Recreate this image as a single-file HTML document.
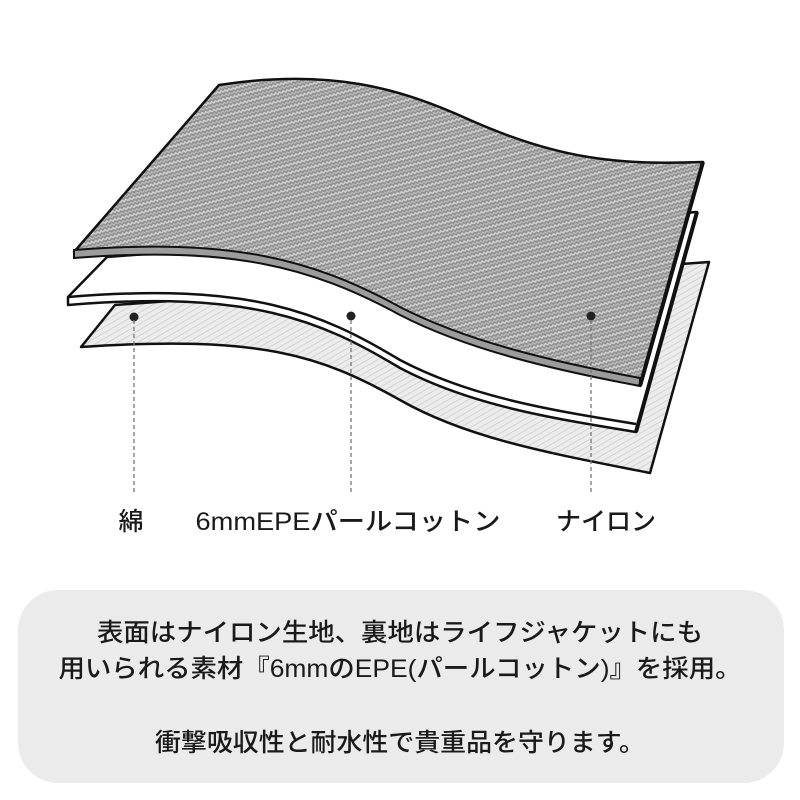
<!DOCTYPE html>
<html><head><meta charset="utf-8"><style>
html,body{margin:0;padding:0;background:#fff;width:800px;height:800px;overflow:hidden}
.t{font-family:"Liberation Sans","Noto Sans CJK JP",sans-serif;fill:#1a1a1a;font-weight:500}
</style></head><body>
<svg width="800" height="800" viewBox="0 0 800 800" xmlns="http://www.w3.org/2000/svg">
<defs>
<pattern id="weave" width="8" height="8" patternUnits="userSpaceOnUse" patternTransform="rotate(-15)">
<rect width="8" height="8" fill="#8f8f8f"/>
<path d="M0 3 L2 1 L4 3 L6 1 L8 3" stroke="#d2d2d2" stroke-width="1.5" fill="none"/>
<path d="M0 7 L2 5 L4 7 L6 5 L8 7" stroke="#bdbdbd" stroke-width="1.2" fill="none"/>
</pattern>
<pattern id="cotton" width="5" height="5" patternUnits="userSpaceOnUse" patternTransform="rotate(60)">
<rect width="5" height="5" fill="#ececec"/>
<line x1="0" y1="0" x2="0" y2="5" stroke="#c6c6c6" stroke-width="1.3"/>
</pattern>
</defs>
<!-- bottom cotton layer -->
<path d="M81 347 L115 305 L709 262 L650 473 C560 455 470 440 400 400 C320 355 260 335 81 347 Z" fill="url(#cotton)" stroke="#111" stroke-width="2.5" stroke-linejoin="round"/>
<!-- middle white layer -->
<path d="M68 305 L68 297 L107 257 L697 212 L636 432 C550 418 470 405 400 368 C320 320 250 290 68 305 Z" fill="#fff" stroke="#111" stroke-width="2.5" stroke-linejoin="round"/>
<path d="M68 297 C250 282 320 312 400 360 C470 397 550 410 636 424" fill="none" stroke="#111" stroke-width="2.5"/>
<path d="M697 212 L636 432" stroke="#111" stroke-width="4"/>
<!-- top layer -->
<path d="M74 252 L219 85 C330 68 400 88 470 120 C560 160 620 165 703 162 L641 385 C560 370 470 350 400 313 C310 262 230 240 74 252 Z" fill="url(#weave)" stroke="#111" stroke-width="2.5" stroke-linejoin="round"/>
<path d="M74 250 C230 238 310 258 400 307 C470 343 560 363 640 378 L640 386 C560 371 470 351 400 315 C310 266 230 246 74 258 Z" fill="#9c9c9c" stroke="#111" stroke-width="2"/>
<path d="M703 162 L640 386" stroke="#111" stroke-width="4"/>
<!-- pointers -->
<g fill="#222"><circle cx="134" cy="317" r="4.5"/><circle cx="351" cy="316" r="4.5"/><circle cx="591" cy="316" r="4.5"/></g>
<g stroke="#777" stroke-width="1.3" stroke-dasharray="4 3">
<line x1="134" y1="320" x2="134" y2="492"/><line x1="351" y1="320" x2="351" y2="492"/><line x1="591" y1="320" x2="591" y2="492"/></g>
<g class="t" font-size="25" text-anchor="middle">
<text x="131" y="530">綿</text>
<text x="348" y="530" textLength="305" lengthAdjust="spacingAndGlyphs">6mmEPEパールコットン</text>
<text x="606" y="530">ナイロン</text>
</g>
<rect x="18" y="590" width="766" height="193" rx="40" fill="#ebebeb"/>
<g class="t" font-size="25" text-anchor="middle">
<text x="400" y="641" textLength="606" lengthAdjust="spacingAndGlyphs">表面はナイロン生地、裏地はライフジャケットにも</text>
<text x="400" y="677" textLength="683" lengthAdjust="spacingAndGlyphs">用いられる素材『6mmのEPE(パールコットン)』を採用。</text>
<text x="400" y="751" textLength="490" lengthAdjust="spacingAndGlyphs">衝撃吸収性と耐水性で貴重品を守ります。</text>
</g>
</svg>
</body></html>
